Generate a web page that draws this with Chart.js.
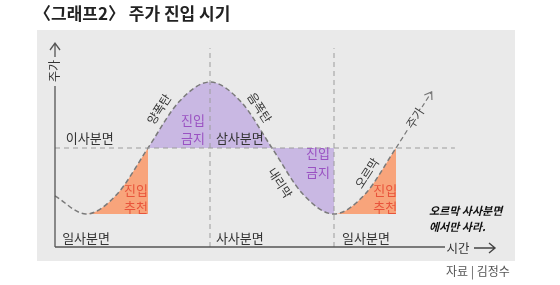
<!DOCTYPE html>
<html>
<head>
<meta charset="utf-8">
<script src="https://cdn.jsdelivr.net/npm/chart.js@4.4.1/dist/chart.umd.min.js"></script>
<style>
  html, body { margin: 0; padding: 0; background: #fff; }
  #wrap { width: 560px; height: 285px; }
</style>
</head>
<body>
<div id="wrap"><canvas id="chart" width="560" height="285"></canvas></div>
<script>
// 시간(x) / 주가(y) - conceptual cycle
const timeSteps = [0, 1, 2, 3, 4, 5, 6, 7, 8, 9, 10, 11];
const priceLevels = [3.1, 2, 3.2, 6, 8.8, 10, 8.8, 6, 3.2, 2, 3.2, 6];
const arrowTime = [11, 12.15];
const arrowPrice = [6, 9.4];
const midLevel = 6;   // 이사분면/삼사분면 boundary
const lowLevel = 2;   // bottom of the cycle
const buyRanges = [[1, 3], [9, 11]];   // 진입 추천
const banRanges = [[3, 9]];            // 진입 금지
const dividerTimes = [5, 9];
const topLevel = 12.05;

const FONT = '"Noto Sans CJK KR", "Noto Sans", sans-serif';
const ORANGE = "#f8a47b";
const PURPLE = "#c9b8e3";

const curvePts = timeSteps.map((t, i) => ({ x: t, y: priceLevels[i] }));
const arrowPts = arrowTime.map((t, i) => ({ x: t, y: arrowPrice[i] }));

const inRanges = (ctx, ranges) => {
    const a = timeSteps[ctx.p0DataIndex], b = timeSteps[ctx.p1DataIndex];
    return ranges.some(([lo, hi]) => a >= lo && b <= hi);
};

// quadrant labels etc, placed in data coords
const labels = [
    { text: "이사분면", x: 0.35, y: 6.6, align: "left", color: "#333", size: 13 },
    { text: "삼사분면", x: 5.19, y: 6.6, align: "left", color: "#333", size: 13 },
    { text: "일사분면", x: 0.23, y: 0.55, align: "left", color: "#333", size: 13 },
    { text: "사사분면", x: 5.19, y: 0.55, align: "left", color: "#333", size: 13 },
    { text: "일사분면", x: 9.26, y: 0.55, align: "left", color: "#333", size: 13 },
    { text: "진입", x: 4.45, y: 7.7, color: "#9a52c2", size: 13 },
    { text: "금지", x: 4.45, y: 6.6, color: "#9a52c2", size: 13 },
    { text: "진입", x: 8.48, y: 5.7, color: "#9a52c2", size: 13 },
    { text: "금지", x: 8.48, y: 4.55, color: "#9a52c2", size: 13 },
    { text: "진입", x: 2.61, y: 3.45, color: "#e8543b", size: 13 },
    { text: "추천", x: 2.61, y: 2.45, color: "#e8543b", size: 13 },
    { text: "진입", x: 10.65, y: 3.45, color: "#e8543b", size: 13 },
    { text: "추천", x: 10.65, y: 2.4, color: "#e8543b", size: 13 },
    { text: "양폭탄", x: 3.35, y: 8.35, rot: -57, color: "#333", size: 12 },
    { text: "음폭탄", x: 6.6, y: 8.45, rot: 57, color: "#333", size: 12 },
    { text: "내리막", x: 7.26, y: 3.88, rot: 57, color: "#333", size: 12 },
    { text: "오르막", x: 10.06, y: 4.48, rot: -57, color: "#333", size: 12 },
    { text: "주가", x: 11.61, y: 7.82, rot: -57, color: "#444", size: 12, bg: true }
];

const decor = {
    id: "decor",
    beforeDraw(chart) {
        const c = chart.ctx;
        c.save();
        c.fillStyle = "#fff";
        c.fillRect(0, 0, chart.width, chart.height);
        c.fillStyle = "#eaeaea";
        c.fillRect(37, 30, 478, 231);
        c.fillStyle = "#222";
        c.font = "bold 17px " + FONT;
        c.textBaseline = "middle";
        c.fillText("〈그래프2〉 주가 진입 시기", 34, 14);
        c.fillStyle = "#555";
        c.font = "12px " + FONT;
        c.fillText("자료 | 김정수", 446, 271);
        c.restore();
    },
    afterDraw(chart) {
        const c = chart.ctx;
        const sx = chart.scales.x, sy = chart.scales.y;
        const px = v => sx.getPixelForValue(v), py = v => sy.getPixelForValue(v);
        c.save();

        // dashed guides
        c.strokeStyle = "#9c9c9c";
        c.lineWidth = 1;
        c.setLineDash([5, 4]);
        c.beginPath();
        c.moveTo(px(0), py(midLevel));
        c.lineTo(px(12.9), py(midLevel));
        dividerTimes.forEach(t => {
            c.moveTo(px(t), py(0));
            c.lineTo(px(t), py(topLevel));
        });
        c.stroke();
        c.setLineDash([]);

        // axes
        const ox = px(0), oy = py(0);
        c.strokeStyle = "#555";
        c.lineWidth = 1.3;
        c.beginPath();
        c.moveTo(ox, oy); c.lineTo(445, oy);
        c.moveTo(ox, oy); c.lineTo(ox, 86);
        c.moveTo(ox, 57); c.lineTo(ox, 43);
        c.moveTo(ox - 5, 50); c.lineTo(ox, 43); c.lineTo(ox + 5, 50);
        c.stroke();

        // time arrow
        c.strokeStyle = "#444";
        c.lineWidth = 1.4;
        c.beginPath();
        c.moveTo(474, 248); c.lineTo(495, 248);
        c.moveTo(489, 243); c.lineTo(495, 248); c.lineTo(489, 253);
        c.stroke();

        c.fillStyle = "#333";
        c.font = "12.5px " + FONT;
        c.textAlign = "center";
        c.textBaseline = "middle";
        c.fillText("시간", 458, oy + 1);
        c.save();
        c.translate(ox - 1, 71);
        c.rotate(-Math.PI / 2);
        c.font = "12px " + FONT;
        c.fillText("주가", 0, 0);
        c.restore();

        // arrow head on the price line
        const x1 = px(arrowTime[0]), y1 = py(arrowPrice[0]);
        const x2 = px(arrowTime[1]), y2 = py(arrowPrice[1]);
        const ang = Math.atan2(y2 - y1, x2 - x1);
        c.strokeStyle = "#777";
        c.lineWidth = 1.2;
        c.beginPath();
        c.moveTo(x2 - 8 * Math.cos(ang - 0.6), y2 - 8 * Math.sin(ang - 0.6));
        c.lineTo(x2, y2);
        c.lineTo(x2 - 8 * Math.cos(ang + 0.6), y2 - 8 * Math.sin(ang + 0.6));
        c.stroke();

        // labels
        labels.forEach(l => {
            c.save();
            c.translate(px(l.x), py(l.y));
            if (l.rot) c.rotate(l.rot * Math.PI / 180);
            c.font = l.size + "px " + FONT;
            c.textAlign = l.align || "center";
            c.textBaseline = "middle";
            if (l.bg) {
                const w = c.measureText(l.text).width;
                c.fillStyle = "#eaeaea";
                c.fillRect(-w / 2 - 2, -6, w + 4, 12);
            }
            c.fillStyle = l.color;
            c.fillText(l.text, 0, 0);
            c.restore();
        });

        // note
        c.fillStyle = "#111";
        c.font = "italic bold 11px " + FONT;
        c.textAlign = "left";
        c.fillText("오르막 사사분면", 429, 211);
        c.fillText("에서만 사라.", 429, 227);
        c.restore();
    }
};

new Chart(document.getElementById("chart"), {
    type: "line",
    data: {
        datasets: [
            {
                data: curvePts,
                borderColor: "#7a7a7a",
                borderWidth: 1.5,
                borderDash: [5, 3],
                pointRadius: 0,
                fill: false,
                cubicInterpolationMode: "monotone"
            },
            {
                data: arrowPts,
                borderColor: "#7a7a7a",
                borderWidth: 1.3,
                borderDash: [5, 3],
                pointRadius: 0,
                fill: false
            },
            {
                data: curvePts,
                borderColor: "transparent",
                borderWidth: 0,
                pointRadius: 0,
                backgroundColor: "transparent",
                cubicInterpolationMode: "monotone",
                fill: { value: midLevel },
                segment: { backgroundColor: ctx => inRanges(ctx, banRanges) ? PURPLE : "transparent" }
            },
            {
                data: curvePts,
                borderColor: "transparent",
                borderWidth: 0,
                pointRadius: 0,
                backgroundColor: "transparent",
                cubicInterpolationMode: "monotone",
                fill: { value: lowLevel },
                segment: { backgroundColor: ctx => inRanges(ctx, buyRanges) ? ORANGE : "transparent" }
            }
        ]
    },
    options: {
        responsive: false,
        animation: false,
        layout: { padding: 0 },
        plugins: { legend: { display: false }, tooltip: { enabled: false } },
        scales: {
            x: { type: "linear", display: false, min: -55 / 31, max: 505 / 31 },
            y: { display: false, min: -38 / 16.5, max: 247 / 16.5 }
        }
    },
    plugins: [decor]
});
</script>
</body>
</html>
